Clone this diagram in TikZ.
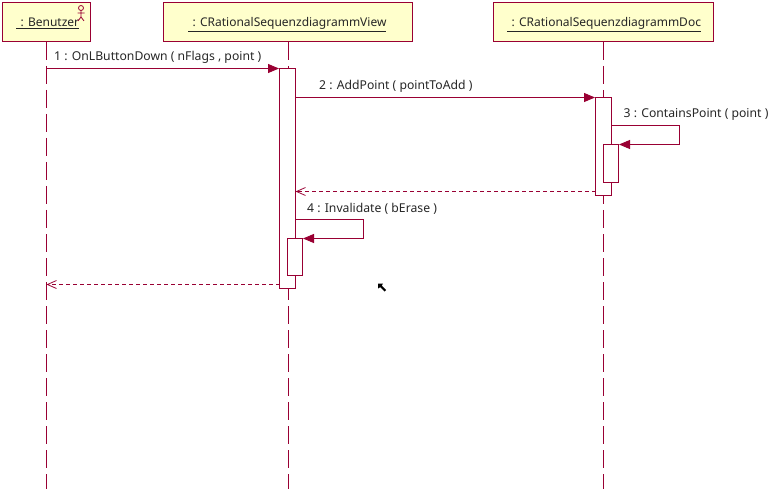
\documentclass[tikz,border=0pt]{standalone}
\usepackage{fontspec}
\setmainfont{Noto Sans}
\usetikzlibrary{arrows.meta}
\definecolor{umlred}{HTML}{990033}
\definecolor{umlfill}{HTML}{FFFFCC}
\tikzset{
  objbox/.style={draw=umlred,fill=umlfill,line width=1pt,minimum height=39pt,inner sep=0pt,anchor=north west},
  actbox/.style={draw=umlred,fill=white,line width=1pt,inner sep=0pt,minimum width=16pt,anchor=north},
  lifeline/.style={draw=umlred,line width=1pt,dash pattern=on 18pt off 6pt},
  msg/.style={draw=umlred,line width=1pt,-{Triangle[length=11pt,width=9pt]}},
  retmsg/.style={draw=umlred,line width=1pt,dash pattern=on 4pt off 3pt,-{Straight Barb[length=9pt,width=8pt,line width=.8pt]}},
  msglabel/.style={anchor=base west,inner sep=0pt,font=\fontsize{12.2pt}{14pt}\selectfont,text=black!85},
  objlabel/.style={anchor=base west,inner sep=0pt,font=\fontsize{12pt}{14pt}\selectfont,text=black!85}
}
\begin{document}
\begin{tikzpicture}[x=1pt,y=-1pt]
          \useasboundingbox (0,0) rectangle (777,492);
          % objects
          \node[objbox,minimum width=88pt] (user) at (2,2){};
          \node[objbox,minimum width=249pt] (view) at (163,2){};
          \node[objbox,minimum width=220pt] (doc) at (493,2){};
          \node[objlabel] (userlabel) at (16,27){\underline{\hspace*{4.5pt}: Benutzer}};
          \node[objlabel] (viewlabel) at (188,27){\underline{\hspace*{4.5pt}: CRationalSequenzdiagrammView}};
          \node[objlabel] (doclabel) at (507,27){\underline{\hspace*{4.5pt}: CRationalSequenzdiagrammDoc}};
          % lifelines
          \coordinate (userend) at (46.5,489);
          \coordinate (viewend) at (288.5,489);
          \coordinate (docend) at (603.5,489);
          \draw[lifeline] (user.south -| userend) -- (userend);
          \draw[lifeline] (view.south -| viewend) -- (viewend);
          \draw[lifeline] (doc.south -| docend) -- (docend);
          % activations
          \node[actbox,minimum height=220pt] (viewact) at (287.5,68){};
          \node[actbox,minimum height=37pt,minimum width=15pt] (viewself) at (295,238){};
          \node[actbox,minimum height=98pt] (docact) at (603.5,97){};
          \node[actbox,minimum height=38pt,minimum width=15pt] (docself) at (611,144){};
          % actor
          \draw[draw=umlred,line width=.8pt] (81,8) circle (2.5pt);
          \draw[draw=umlred,line width=.8pt] (81,10.5) -- (81,17) (77.5,13) -- (84.5,13) (78,21) -- (81,17) -- (84,21);
          % messages
          \coordinate (m1) at (46.5,68.5);
          \draw[msg] (m1) -- (m1 -| viewact.west);
          \node[msglabel] (m1label) at (54,61){1 : OnLButtonDown ( nFlags , point )};
          \coordinate (m2) at (295.5,97.5);
          \draw[msg] (m2) -- (m2 -| docact.west);
          \node[msglabel] (m2label) at (319,90){2 : AddPoint ( pointToAdd )};
          \coordinate (m3a) at (611.5,125.5);
          \coordinate (m3b) at (679.5,125.5);
          \coordinate (m3c) at (679.5,144.5);
          \draw[msg] (m3a) -- (m3b) -- (m3c) -- (m3c -| docself.east);
          \node[msglabel] (m3label) at (623.5,118){3 : ContainsPoint ( point )};
          \coordinate (m3ret) at (595.5,191.5);
          \coordinate (m3to) at (295.5,191.5);
          \draw[retmsg] (m3ret) -- (m3to);
          \coordinate (m4a) at (295.5,219.5);
          \coordinate (m4b) at (363.5,219.5);
          \coordinate (m4c) at (363.5,238.5);
          \draw[msg] (m4a) -- (m4b) -- (m4c) -- (m4c -| viewself.east);
          \node[msglabel] (m4label) at (307,213){4 : Invalidate ( bErase )};
          \coordinate (m4ret) at (279.5,284.5);
          \coordinate (m4to) at (46.5,284.5);
          \draw[retmsg] (m4ret) -- (m4to);
          % mouse cursor
          \fill[black] (378,283.5) -- (383,283.5) -- (381.8,285.6) -- (386,290) -- (384.5,291.5) -- (380.2,287.2) -- (378,288.5) -- cycle;
        \end{tikzpicture}
\end{document}
